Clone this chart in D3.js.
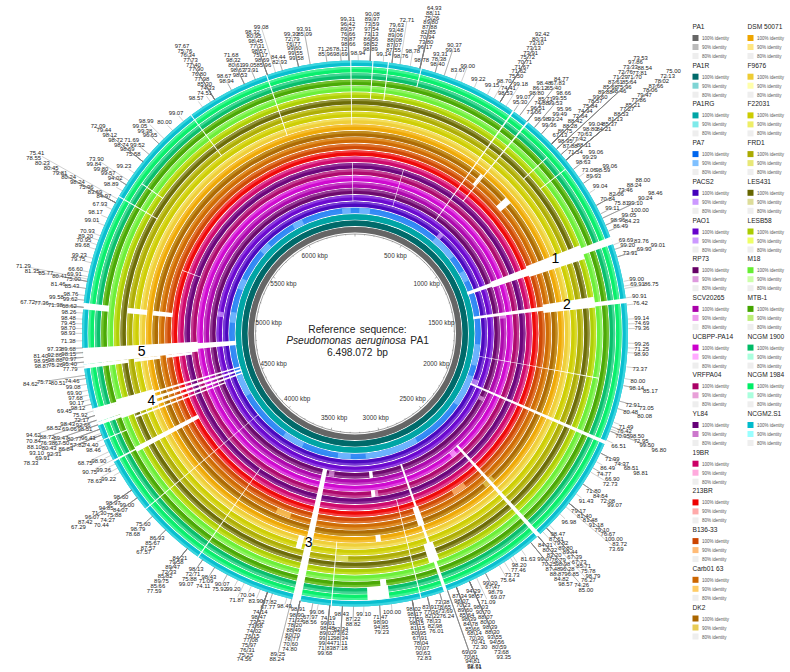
<!DOCTYPE html>
<html>
<head>
<meta charset="utf-8">
<script src="https://cdn.jsdelivr.net/npm/d3@7"></script>
<style>
  body { margin: 0; background: #fff; }
  text { font-family: "Liberation Sans", Arial, sans-serif; }
</style>
</head>
<body>
<div id="chart"></div>
<script>
// strains, inner ring first
const strains = ["PA1", "PA1R", "PA1RG", "PA7", "PACS2", "PAO1", "RP73", "SCV20265", "UCBPP-PA14", "VRFPA04", "YL84", "19BR", "213BR", "B136-33", "Carb01 63", "DK2", "DSM 50071", "F9676", "F22031", "FRD1", "LES431", "LESB58", "M18", "MTB-1", "NCGM 1900", "NCGM 1984", "NCGM2.S1"];
const color100 = ["#666666", "#006a6a", "#00a5a5", "#0066ee", "#4400bb", "#6600cc", "#660066", "#aa00aa", "#cc00cc", "#aa0066", "#660077", "#cc0066", "#ee0000", "#cc4400", "#cc6600", "#aa6600", "#eea500", "#eecc33", "#cccc00", "#aaaa00", "#666600", "#aacc00", "#66ee33", "#44a500", "#00bb66", "#00ee66", "#00bbcc"];
const color90 = ["#bbbbbb", "#7fd4d4", "#7eeaea", "#7fc0ff", "#cc99ff", "#cc99ff", "#dd99dd", "#ee99ee", "#ffaaff", "#e8a0d8", "#cc77cc", "#ffaadd", "#ffaaaa", "#ffbb77", "#ffcc66", "#e8cc55", "#ffe680", "#ffffaa", "#eeee66", "#e8e877", "#dddd99", "#eeff66", "#ccffaa", "#bbee77", "#aaffdd", "#aaffdd", "#99ffff"];
const identityLevels = ["100% identity", "90% identity", "80% identity"];

const genomeLength = 6498.072;
const tickLabels = [500, 1000, 1500, 2000, 2500, 3000, 3500, 4000, 4500, 5000, 5500, 6000];

// missing regions: start kbp, end kbp, first ring, last ring
const gaps = [
  [1256, 1285, 3, 7], [1248, 1292, 7, 13], [1238, 1300, 13, 21], [1251, 1280, 21, 26],
  [1478, 1500, 3, 14], [1467, 1513, 14, 21], [1491, 1509, 21, 26],
  [3457, 3489, 6, 26], [3502, 3529, 17, 18],
  [4518, 4531, 3, 26], [4545, 4560, 3, 26], [4574, 4585, 3, 26], [4494, 4503, 6, 20],
  [4513, 4595, 17, 22], [4531, 4576, 22, 26], [4359, 4381, 12, 22], [4368, 4375, 22, 26],
  [4773, 4810, 3, 9], [4756, 4819, 9, 26], [4740, 4756, 10, 13], [4740, 4756, 15, 18], [4740, 4756, 20, 26],
  [6480, 6484, 17, 26], [66, 70, 21, 26], [125, 129, 21, 26], [252, 256, 24, 26],
  [6155, 6159, 17, 26], [5830, 5834, 19, 26], [296, 300, 5, 10], [6480, 6484, 5, 10],
  [637, 643, 6, 26], [705, 711, 11, 26], [690, 705, 14, 15], [855, 859, 20, 24],
  [937, 941, 21, 25], [866, 903, 14, 15], [1810, 1814, 4, 22], [2042, 2056, 4, 26],
  [2478, 2494, 8, 26], [2893, 2906, 6, 26], [2880, 2925, 19, 21], [2888, 2920, 13, 15],
  [2994, 2998, 11, 26], [3120, 3145, 6, 6], [3120, 3145, 9, 9], [3120, 3145, 16, 16],
  [3120, 3145, 23, 23], [3115, 3200, 24, 25], [3337, 3341, 17, 26], [3880, 3884, 10, 26],
  [4150, 4154, 4, 26], [4965, 4990, 23, 26], [4965, 4990, 17, 19], [4965, 4990, 13, 15],
  [5234, 5238, 10, 12], [5415, 5419, 20, 26], [5505, 5509, 21, 24], [4458, 4462, 23, 26]
];

// lower identity stretches: ring, start kbp, end kbp
const lowRegions = [
  [3, 6390, 6462], [3, 36, 126], [3, 5957, 6047], [3, 5614, 5704], [3, 5253, 5343], [3, 4964, 5054],
  [3, 4332, 4513], [3, 3700, 3881], [3, 722, 939], [3, 1986, 2256], [3, 1715, 1895], [3, 2708, 3159],
  [3, 3285, 3393], [3, 1083, 1173],
  [4, 722, 760], [4, 2000, 2050], [5, 5000, 5040], [6, 2100, 2130], [6, 3400, 3440], [7, 1480, 1520],
  [8, 2520, 2560], [9, 3100, 3140], [13, 2600, 2680], [14, 3600, 3680], [15, 2460, 2520], [19, 3280, 3340]
];

// numbered regions
const regionNames = ["1", "2", "3", "4", "5"];
const regionKbp = [1253, 1480, 3475, 4549, 4791];

// percent labels: position kbp, values from the ring outwards
const pctLabels = [
  [11, [98.94]],
  [56, [98.89, 98.52, 86.56, 73.13, 97.54, 73.59, 89.97, 90.08]],
  [106, [99.14]],
  [139, [87.55, 87.07, 88.08, 89.06, 93.48, 79.63]],
  [170, [98.76, 72.71]],
  [209, [98.78]],
  [247, [98.78, 96.17, 73.80, 70.94, 82.85, 87.88, 89.80, 75.26, 88.11, 64.93]],
  [307, [98.40, 78.38, 93.31]],
  [343, [99.16, 90.37]],
  [386, [83.67]],
  [412, [99.00]],
  [466, [99.22]],
  [522, [99.15]],
  [551, [98.70]],
  [578, [98.53, 74.41, 75.50, 71.62, 71.67, 70.71, 75.72, 73.91, 73.13, 73.10, 80.31, 92.42]],
  [605, [99.18]],
  [641, [95.30, 99.07]],
  [668, [98.80, 86.12, 98.48]],
  [704, [73.06, 96.51, 74.88, 85.71, 65.40, 67.83, 84.77]],
  [740, [98.98, 99.53, 99.55, 98.66]],
  [776, [99.36, 93.24, 99.49, 95.96]],
  [830, [67.13, 86.75, 88.28, 88.42, 72.64, 74.94, 75.84, 78.57, 99.60, 89.88, 85.68, 87.61, 71.29, 72.76, 73.33, 97.86, 73.53]],
  [857, [98.95, 98.46, 75.96, 85.64, 71.70, 77.81, 88.54]],
  [884, [87.88, 77.42, 70.63, 98.80, 99.04]],
  [912, [71.54, 88.11, 84.21, 85.37, 81.13, 88.53, 77.27, 85.21, 77.86, 79.47, 78.06, 87.66, 78.02, 72.13, 75.00]],
  [957, [98.63, 99.29, 99.06]],
  [993, [73.06]],
  [1022, [89.93, 98.59, 99.06]],
  [1065, [99.04]],
  [1119, [70.84, 82.06, 73.46, 88.24, 88.00]],
  [1155, [99.11, 75.81]],
  [1173, [99.10, 90.24, 98.46]],
  [1202, [98.96, 99.05, 100.00]],
  [1227, [86.49, 84.23]],
  [1282, [69.69]],
  [1300, [99.20, 83.76]],
  [1330, [73.91, 69.90, 99.01]],
  [1426, [99.00]], [1444, [69.91]], [1453, [86.75]],
  [1489, [90.91]], [1516, [76.42]],
  [1570, [99.14]], [1588, [74.69]], [1606, [79.36]], [1661, [99.26]], [1679, [71.25]], [1697, [98.90]], [1751, [73.37]],
  [1796, [80.00]], [1823, [98.14, 85.17]],
  [1884, [72.91, 73.05]], [1913, [80.48, 80.08]], [1967, [71.49]], [1985, [76.42, 98.50]], [1995, [72.95]],
  [2003, [70.95, 99.50, 96.80]], [2040, [66.51]],
  [2094, [71.99, 74.37, 68.51, 98.81]], [2130, [86.49]], [2157, [74.77, 66.90]], [2175, [72.73]],
  [2229, [71.80, 84.54, 72.08, 99.07]], [2274, [91.43]],
  [2319, [79.17, 81.40, 81.48, 91.18, 79.10, 76.67, 100.00, 83.72]],
  [2337, [73.69]], [2372, [96.98]], [2430, [98.47]],
  [2446, [87.61, 79.82, 89.80, 89.44, 67.39, 67.73, 85.71, 75.78, 98.79]],
  [2466, [76.27]],
  [2491, [84.31, 80.32, 83.20, 76.79, 98.98, 96.28, 96.85, 74.26, 85.00]],
  [2527, [99.07, 70.25, 87.48, 88.87, 84.82, 98.57]],
  [2572, [81.63]], [2612, [98.20]], [2624, [77.46]], [2652, [73.73]], [2675, [75.64]],
  [2735, [99.20, 67.47, 98.79, 69.07]], [2773, [71.09]],
  [2803, [94.29, 98.57, 98.03, 90.70, 88.07, 80.00, 98.39, 88.30, 93.55, 94.56, 80.59, 73.68, 93.35]],
  [2857, [87.34, 98.07, 70.23, 89.60, 85.64, 98.39, 84.78, 85.66, 68.14, 70.30, 70.41, 72.30]],
  [2893, [69.09, 70.81, 94.81, 72.71, 98.91]],
  [2924, [73.38, 78.65, 73.69, 76.24]],
  [2973, [83.91, 77.36, 82.22, 78.33, 82.98, 76.01]],
  [3032, [98.02, 98.17, 77.59, 98.15, 81.15, 80.95, 67.91, 78.04, 70.07, 90.63, 72.83]],
  [3112, [100.00]],
  [3157, [71.47, 98.90, 94.85, 79.23]],
  [3217, [99.10]],
  [3256, [87.22, 88.82]],
  [3298, [98.43, 82.34, 73.62, 98.34, 71.11, 87.18]],
  [3346, [74.19, 99.01, 98.48, 89.02, 99.12, 99.44, 71.83, 99.68]],
  [3390, [99.06]],
  [3411, [67.97, 98.56]],
  [3460, [98.91, 98.90, 71.33, 78.20, 88.49, 80.70, 78.77, 70.60, 74.80]],
  [3493, [89.25, 88.24]],
  [3511, [98.49]],
  [3568, [97.82, 87.77]],
  [3588, [74.14, 98.47, 73.52, 73.68, 74.02, 76.15, 77.08, 75.97, 76.31, 75.25, 74.56]],
  [3617, [83.90]], [3653, [70.04]], [3682, [71.87]], [3709, [99.20]],
  [3754, [90.07, 75.92]],
  [3809, [98.43, 71.09, 74.11]],
  [3863, [98.13, 72.71, 75.88, 99.07]],
  [3935, [84.21, 79.58, 89.47, 72.33, 85.82, 89.75, 85.66, 77.59]],
  [4043, [86.93, 85.67, 87.57, 67.57]],
  [4115, [75.60, 98.79, 78.68]],
  [4206, [99.00, 84.07, 75.88, 74.27, 70.44]],
  [4242, [98.60, 98.97, 94.85, 71.30, 96.07, 87.42, 67.29]],
  [4323, [99.22]], [4341, [78.63]], [4359, [99.36]], [4377, [90.75]], [4395, [98.90]], [4411, [68.75]],
  [4440, [98.46]], [4462, [74.40]], [4480, [57.82, 86.84, 92.31, 69.91, 78.33]], [4487, [96.43]],
  [4503, [80.77, 67.50, 80.43, 93.10]],
  [4521, [98.51, 89.47, 76.38, 88.10]],
  [4539, [92.66, 69.06, 88.72, 70.84]],
  [4558, [72.17, 98.43, 68.52, 94.62]],
  [4576, [75.92]],
  [4603, [98.12, 69.45]],
  [4621, [90.17]], [4639, [97.68]], [4657, [69.90]], [4680, [99.08]],
  [4702, [74.46, 80.51]], [4715, [75.71, 84.62]], [4747, [77.79]],
  [4765, [95.40, 75.26, 98.87]], [4783, [70.97, 98.88, 98.95]], [4801, [98.15, 92.86, 81.40]], [4819, [89.68, 97.33]],
  [4846, [71.38]], [4874, [98.93]], [4892, [98.70]], [4910, [79.45]], [4928, [98.48]], [4951, [98.26]],
  [4973, [68.62, 71.38, 77.36, 67.72]],
  [5000, [99.62, 99.58]], [5018, [98.76]], [5045, [85.43, 81.46]],
  [5072, [75.00, 80.41, 85.77, 81.35]], [5081, [71.29]], [5090, [69.91]],
  [5108, [66.60]], [5144, [79.75]], [5162, [99.23]],
  [5198, [89.68]], [5216, [70.95]], [5234, [89.20]], [5252, [70.93]],
  [5294, [99.01]], [5325, [98.17]], [5361, [67.93]],
  [5390, [84.97, 83.69, 75.96, 98.24, 80.24, 79.81, 80.45, 80.23, 78.55]],
  [5406, [75.41]], [5442, [98.89]], [5469, [94.02, 99.57, 99.80, 99.84]], [5487, [73.90]], [5523, [99.23]],
  [5577, [75.58, 98.69, 98.74, 98.72, 98.12, 79.44, 72.09]],
  [5613, [99.52, 71.69]],
  [5668, [96.65, 99.38, 99.05]],
  [5695, [98.99]], [5740, [80.00]], [5794, [99.07]], [5884, [98.57]], [5920, [74.51]],
  [5938, [74.33, 85.30, 77.98, 76.80, 77.90, 77.40, 77.73, 76.34, 75.76, 97.67]],
  [6011, [98.94, 98.67]],
  [6065, [98.53, 98.63, 80.61, 98.32, 71.68]],
  [6110, [73.91, 99.05]],
  [6159, [85.96, 98.69, 75.17, 98.57, 77.31, 98.45, 80.95, 98.32]],
  [6191, [99.08]],
  [6218, [82.93, 84.44]],
  [6281, [99.58, 99.55, 99.60, 76.77, 72.79, 99.30]],
  [6326, [85.09, 93.91]],
  [6390, [85.96, 71.26]],
  [6444, [98.69, 78.12]],
  [6474, [98.66, 78.87, 76.66, 89.57, 96.42, 99.31]]
];

const width = 790, height = 672;
const cx = 355, cy = 333.5;
const innerR = 101, outerR = 273;

const svg = d3.select("#chart").append("svg")
  .attr("width", width)
  .attr("height", height)
  .attr("viewBox", [0, 0, width, height]);

const angle = d3.scaleLinear().domain([0, genomeLength]).range([0, 2 * Math.PI]);
const ringBand = d3.scaleBand().domain(d3.range(strains.length)).range([innerR, outerR]).paddingInner(0.14);
const arc = d3.arc();
const plot = svg.append("g").attr("transform", `translate(${cx},${cy})`);

const ringPath = (i, a0, a1, r0, r1) => arc({ innerRadius: r0, outerRadius: r1, startAngle: a0, endAngle: a1 });

// rings: strong band with a paler rim on the outside
const rings = plot.append("g");
strains.forEach((s, i) => {
  const r0 = ringBand(i), bw = ringBand.bandwidth();
  const mix = d3.interpolateRgb(color100[i], color90[i]);
  const strong = i === 3 ? mix(0.42) : mix(i < 3 ? 0 : 0.06);
  const rim = i < 3 ? strong : mix(0.38);
  rings.append("path").attr("d", ringPath(i, 0, 2 * Math.PI, r0, r0 + bw)).attr("fill", strong);
  rings.append("path").attr("d", ringPath(i, 0, 2 * Math.PI, r0 + bw * 0.6, r0 + bw)).attr("fill", rim);
});

// lower identity stretches
plot.append("g").selectAll("path")
  .data(lowRegions)
  .join("path")
  .attr("d", d => ringPath(d[0], angle(d[1]), angle(d[2]), ringBand(d[0]), ringBand(d[0]) + ringBand.bandwidth()))
  .attr("fill", d => color90[d[0]])
  .attr("opacity", 0.75);

// missing regions
plot.append("g").selectAll("path")
  .data(gaps)
  .join("path")
  .attr("d", d => ringPath(0, angle(d[0]), angle(d[1]), ringBand(d[2]) - 1, ringBand(d[3]) + ringBand.bandwidth() + 0.5))
  .attr("fill", "#fff");

// kbp ticks on the inner circle
plot.append("circle").attr("r", innerR - 1.5).attr("fill", "none").attr("stroke", "#444").attr("stroke-width", 0.5);
plot.append("g").selectAll("line")
  .data(d3.range(0, genomeLength, 100))
  .join("line")
  .attr("x1", d => Math.sin(angle(d)) * (innerR - 1.5))
  .attr("y1", d => -Math.cos(angle(d)) * (innerR - 1.5))
  .attr("x2", d => Math.sin(angle(d)) * (innerR - (d % 500 === 0 ? 4 : 2.5)))
  .attr("y2", d => -Math.cos(angle(d)) * (innerR - (d % 500 === 0 ? 4 : 2.5)))
  .attr("stroke", "#444")
  .attr("stroke-width", 0.4);

plot.append("g").selectAll("text")
  .data(tickLabels)
  .join("text")
  .attr("x", d => Math.sin(angle(d)) * 87)
  .attr("y", d => -Math.cos(angle(d)) * 87 + 2)
  .attr("text-anchor", "middle")
  .attr("font-size", 6.4)
  .attr("fill", "#333")
  .text(d => `${d} kbp`);

// centre title
const title = svg.append("g").attr("text-anchor", "middle").attr("font-size", 10.2).attr("fill", "#222");
title.append("text").attr("x", cx + 2.5).attr("y", cy - 1).attr("word-spacing", 1.5).text("Reference sequence:");
const species = title.append("text").attr("x", cx + 2.5).attr("y", cy + 10.5).attr("word-spacing", 1.5);
species.append("tspan").attr("font-style", "italic").text("Pseudomonas aeruginosa");
species.append("tspan").text(" PA1");
title.append("text").attr("x", cx + 2.5).attr("y", cy + 22).attr("word-spacing", 1.5).text("6.498.072 bp");

// percent labels: pushed outwards until they clear the ones already placed
const labelW = 13.5, labelH = 4.6, startR = 280;
const placed = [];
const clear = (x, y) => placed.every(p => Math.abs(p[0] - x) > labelW || Math.abs(p[1] - y) > labelH);
const labelSpot = (r, sx, sy) => [(r + 7 * Math.abs(sx)) * sx, (r + 7 * Math.abs(sx)) * sy];
const onPage = y => y + cy > 6 && y + cy < height - 5;
const labelLayer = plot.append("g");
pctLabels.forEach(([kbp, values]) => {
  const a = angle(kbp), sx = Math.sin(a), sy = -Math.cos(a);
  let r = startR;
  values.forEach(v => {
    let [x, y] = labelSpot(r, sx, sy);
    while (!clear(x, y) && onPage(y) && r < 430) {
      r += 0.5;
      [x, y] = labelSpot(r, sx, sy);
    }
    // stacks that reach the page edge stay just inside it
    while (!onPage(y)) {
      r -= 0.5;
      [x, y] = labelSpot(r, sx, sy);
    }
    placed.push([x, y]);
    labelLayer.append("line")
      .attr("x1", outerR * sx + 0.4).attr("y1", outerR * sy)
      .attr("x2", r * sx).attr("y2", r * sy)
      .attr("stroke", "#777")
      .attr("stroke-width", 0.35);
    labelLayer.append("text")
      .attr("x", x).attr("y", y + 2)
      .attr("text-anchor", "middle")
      .attr("font-size", 5.9)
      .attr("fill", "#222")
      .text(v.toFixed(2));
    r += 1;
  });
});

// numbered regions
plot.append("g").selectAll("text")
  .data(regionNames)
  .join("text")
  .attr("x", (d, i) => Math.sin(angle(regionKbp[i])) * 214)
  .attr("y", (d, i) => -Math.cos(angle(regionKbp[i])) * 214 + 5)
  .attr("text-anchor", "middle")
  .attr("font-size", 14)
  .attr("fill", "#000")
  .text(d => d);

// legend, two columns
const legendRowH = 38.7, legendTop = 29, inFirstColumn = 16;
const legend = svg.append("g").selectAll("g")
  .data(strains)
  .join("g")
  .attr("transform", (d, i) => `translate(${i < inFirstColumn ? 692.5 : 747.5},${legendTop + (i < inFirstColumn ? i : i - inFirstColumn) * legendRowH})`);
legend.append("text").attr("font-size", 6.6).attr("fill", "#222").text(d => d);
identityLevels.forEach((lab, k) => {
  legend.append("rect")
    .attr("y", 6 + k * 9)
    .attr("width", 6)
    .attr("height", 6)
    .attr("fill", (d, i) => [color100[i], color90[i], "#eeeeee"][k]);
  legend.append("text")
    .attr("x", 9.5)
    .attr("y", 11 + k * 9)
    .attr("font-size", 4.5)
    .attr("fill", "#555")
    .text(lab);
});
</script>
</body>
</html>
